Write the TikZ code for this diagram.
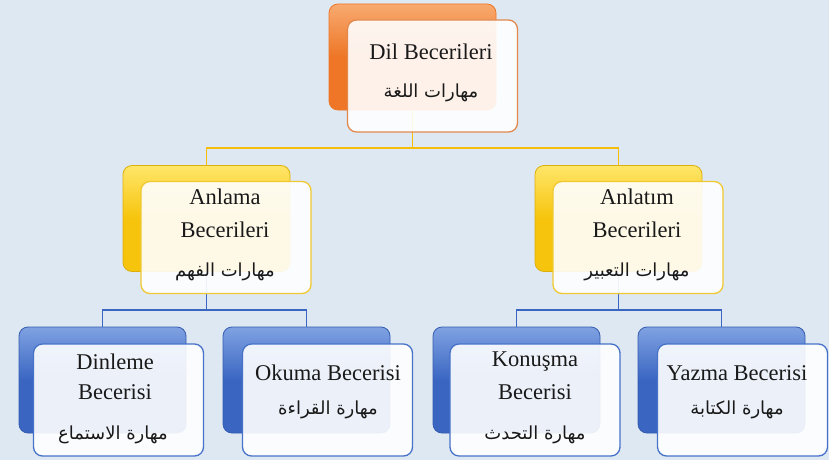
\documentclass[tikz,border=0pt]{standalone}
\usepackage{fontspec}
\setmainfont{Liberation Serif}
\newfontfamily\arabicfont[Script=Arabic]{DejaVu Sans}
\TeXXeTstate=1
\definecolor{bg}{RGB}{222,232,243}
\definecolor{orA}{RGB}{238,118,38}
\definecolor{orB}{RGB}{248,170,112}
\definecolor{orE}{RGB}{226,136,76}
\definecolor{yeA}{RGB}{246,196,12}
\definecolor{yeB}{RGB}{255,230,105}
\definecolor{yeE}{RGB}{240,200,50}
\definecolor{blA}{RGB}{58,102,194}
\definecolor{blB}{RGB}{128,162,226}
\definecolor{blE}{RGB}{70,114,200}
\tikzset{
  backbox/.style={rectangle, rounded corners=9pt, minimum width=167pt, minimum height=106pt, inner sep=0pt, line width=0.8pt},
  frontbox/.style={rectangle, rounded corners=9pt, minimum width=170pt, minimum height=112pt, inner sep=0pt, line width=1.3pt, fill=white, fill opacity=0.9},
  orback/.style={backbox, draw=orA, top color=orB, bottom color=orA, middle color=orA},
  yeback/.style={backbox, draw=yeA!90!black, top color=yeB, bottom color=yeA, middle color=yeA},
  blback/.style={backbox, draw=blA!90!black, top color=blB, bottom color=blA, middle color=blA},
  orfront/.style={frontbox, draw=orE},
  yefront/.style={frontbox, draw=yeE},
  blfront/.style={frontbox, draw=blE},
  lat/.style={inner sep=0pt, font=\fontsize{22.5}{26}\selectfont, text=black!90},
  arb/.style={inner sep=0pt, font=\arabicfont\fontsize{18}{21}\selectfont, text=black!90},
  yconn/.style={draw=yeA!90!orange, line width=1.6pt},
  bconn/.style={draw=blA, line width=1.6pt},
}
\begin{document}
\begin{tikzpicture}[x=1pt, y=-1pt]
\useasboundingbox[fill=bg] (0,0) rectangle (829,460);
% junction coordinates
\coordinate (jt) at (412.5,148);
\coordinate (jl) at (206.5,310);
\coordinate (jr) at (618.5,310);
% back boxes
\node[orback] (topB) at (412.5,57) {};
\node[yeback] (mlB) at (206.5,218.5) {};
\node[yeback] (mrB) at (618.5,218.5) {};
\node[blback] (b1B) at (102.5,380) {};
\node[blback] (b2B) at (306.5,380) {};
\node[blback] (b3B) at (516.5,380) {};
\node[blback] (b4B) at (721.5,380) {};
% connectors
\draw[yconn] (topB.south) -- (jt);
\draw[yconn] (jt) -| (mlB.north);
\draw[yconn] (jt) -| (mrB.north);
\draw[bconn] (mlB.south) -- (jl);
\draw[bconn] (jl) -| (b1B.north);
\draw[bconn] (jl) -| (b2B.north);
\draw[bconn] (mrB.south) -- (jr);
\draw[bconn] (jr) -| (b3B.north);
\draw[bconn] (jr) -| (b4B.north);
% front boxes
\node[orfront] (topF) at (432.5,76) {};
\node[yefront] (mlF) at (226,237.5) {};
\node[yefront] (mrF) at (638,237.5) {};
\node[blfront] (b1F) at (118.5,400) {};
\node[blfront] (b2F) at (327.5,400) {};
\node[blfront] (b3F) at (535,400) {};
\node[blfront] (b4F) at (742.5,400) {};
% texts
\node[lat] (t1) at (431,52) {Dil Becerileri};
\node[arb] (a1) at (431,93) {\beginR مهارات اللغة\endR};
\node[lat] (t2a) at (225,197) {Anlama};
\node[lat] (t2b) at (225,230) {Becerileri};
\node[arb] (a2) at (225,272) {\beginR مهارات الفهم\endR};
\node[lat] (t3a) at (637,197) {Anlatım};
\node[lat] (t3b) at (637,230) {Becerileri};
\node[arb] (a3) at (637,272) {\beginR مهارات التعبير\endR};
\node[lat] (t4a) at (115,362) {Dinleme};
\node[lat] (t4b) at (115,392) {Becerisi};
\node[arb] (a4) at (113,435) {\beginR مهارة الاستماع\endR};
\node[lat] (t5) at (328,373) {Okuma Becerisi};
\node[arb] (a5) at (328,410) {\beginR مهارة القراءة\endR};
\node[lat] (t6a) at (535,362) {Konuşma};
\node[lat] (t6b) at (535,392) {Becerisi};
\node[arb] (a6) at (535,435) {\beginR مهارة التحدث\endR};
\node[lat] (t7) at (737,373) {Yazma Becerisi};
\node[arb] (a7) at (737,410) {\beginR مهارة الكتابة\endR};
\end{tikzpicture}
\end{document}
